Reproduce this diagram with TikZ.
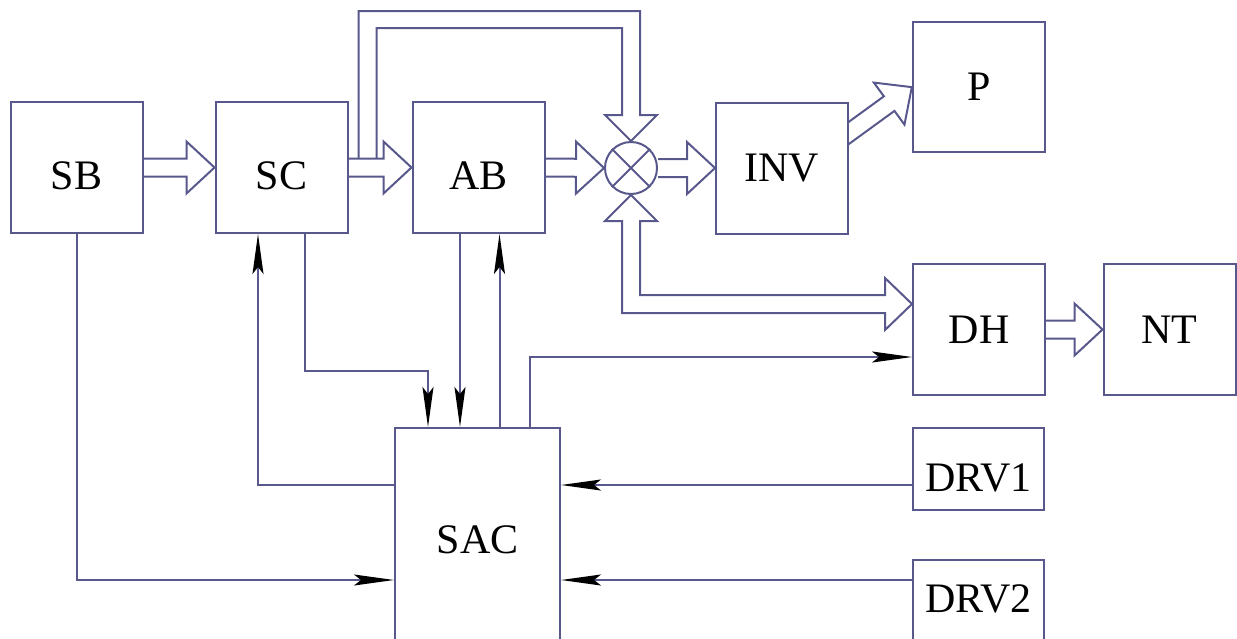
\documentclass[tikz,border=0pt]{standalone}
\usepackage{fontspec}
\setmainfont{Liberation Serif}
\usetikzlibrary{arrows.meta,calc}
\definecolor{linec}{RGB}{88,88,140}
\tikzset{
  blk/.style={draw=linec, line width=2pt, minimum width=132pt, minimum height=131pt,
    inner sep=0pt, font=\fontsize{42}{50}\selectfont},
  low/.style={text height=44pt, text depth=0pt},
  sig/.style={draw=linec, line width=2pt,
    -{Stealth[length=40pt, width=11pt, inset=7pt, color=black, fill=black]}},
  pipe/.style={draw=linec, line width=2pt, line join=miter},
}
\newcommand\blockar[2]{%
  \draw[pipe] let \p1=(#1), \p2=(#2),
    \n1={atan2(\y2-\y1,\x2-\x1)}, \n2={veclen(\x2-\x1,\y2-\y1)} in
    [shift={(\p1)}, rotate=\n1]
    (0pt,9pt) -- ({\n2*1pt-28pt},9pt) -- ({\n2*1pt-28pt},26pt) -- ({\n2*1pt},0pt)
    -- ({\n2*1pt-28pt},-26pt) -- ({\n2*1pt-28pt},-9pt) -- (0pt,-9pt);}
\begin{document}
\begin{tikzpicture}[x=1pt, y=-1pt]
\useasboundingbox (0,0) rectangle (1237,638);
% boxes
\node[blk, low] (SB) at (76.5,167.5) {SB};
\node[blk, low] (SC) at (281.5,167.5) {SC};
\node[blk, low] (AB) at (478.5,167.5) {AB};
\node[circle, draw=linec, line width=2pt, minimum size=52pt, inner sep=0pt] (X) at (631,168) {};
\draw[linec, line width=2pt] (X.north east) -- (X.south west) (X.north west) -- (X.south east);
\node[blk] (INV) at (782,168) {INV};
\node[blk, minimum height=130pt] (P) at (979,87) {P};
\node[blk] (DH) at (979,329.5) {DH};
\node[blk] (NT) at (1169.5,329.5) {NT};
\node[blk, minimum width=165pt, minimum height=224pt] (SAC) at (477.5,540) {SAC};
\node[blk, low, minimum width=131pt, minimum height=82pt] (DRV1) at (978.5,469) {DRV1};
\node[blk, minimum width=131pt, minimum height=100pt, text height=28pt, text depth=24pt] (DRV2) at (978.5,610) {DRV2};
% hollow arrows
\blockar{SB.east}{SC.west}
\blockar{SC.east}{AB.west}
\blockar{AB.east}{X.west}
\blockar{X.east}{INV.west}
\blockar{DH.east}{NT.west}
\begin{scope}
  \clip (INV.east |- P.north) rectangle (P.west |- INV.south);
  \blockar{$(INV.east)+(-12.2,-26.3)$}{P.west}
\end{scope}
% pipe from SC->AB branch into the junction top
\coordinate (t1) at ($(SC.east)+(28,-9)$);
\coordinate (t2) at ($(SC.east)+(10,-9)$);
\draw[pipe] (t1) |- ($(X.north)+(-9,-113)$) -- ($(X.north)+(-9,-26)$)
  -- ($(X.north)+(-26,-26)$) -- (X.north) -- ($(X.north)+(26,-26)$)
  -- ($(X.north)+(9,-26)$) -- ($(X.north)+(9,-130)$) -| (t2);
% double-headed pipe between junction and DH
\coordinate (dhT) at ($(DH.west)+(0,-25.5)$);
\draw[pipe] ($(dhT)+(-27,-9)$) -| ($(X.south)+(9,26)$) -- ($(X.south)+(26,26)$)
  -- (X.south) -- ($(X.south)+(-26,26)$) -- ($(X.south)+(-9,26)$)
  |- ($(dhT)+(-27,9)$) -- ($(dhT)+(-27,26)$) -- (dhT) -- ($(dhT)+(-27,-26)$) -- cycle;
% signal arrows
\draw[sig] (SB.south) |- ($(SAC.west)+(0,40)$);
\draw[sig] ($(SAC.west)+(0,-55)$) -| ($(SC.south)+(-23.5,0)$);
\draw[sig] ($(SC.south)+(23.5,0)$) |- ($(SAC.north)+(-49.5,-56)$) -- ($(SAC.north)+(-49.5,0)$);
\coordinate (ab1) at ($(AB.south)+(-18.5,0)$);
\draw[sig] (ab1) -- (ab1 |- SAC.north);
\coordinate (sa1) at ($(SAC.north)+(22,0)$);
\draw[sig] (sa1) -- (sa1 |- AB.south);
\coordinate (sa2) at ($(SAC.north)+(52,0)$);
\coordinate (dh1) at ($(DH.west)+(0,27.5)$);
\draw[sig] (sa2) |- (dh1);
\coordinate (d1) at ($(DRV1.west)+(0,16)$);
\draw[sig] (d1) -- (d1 -| SAC.east);
\coordinate (d2) at ($(DRV2.west)+(0,-30)$);
\draw[sig] (d2) -- (d2 -| SAC.east);
\end{tikzpicture}
\end{document}
